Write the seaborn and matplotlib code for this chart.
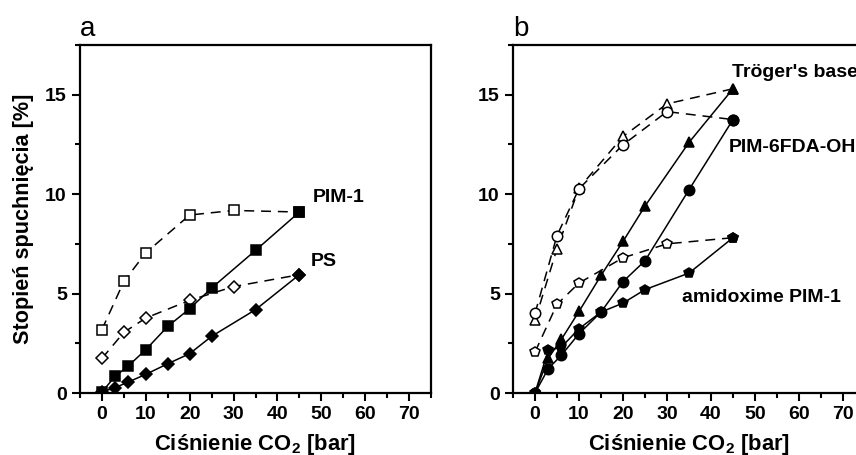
import matplotlib
matplotlib.use("Agg")
import matplotlib.pyplot as plt
import seaborn as sns
from matplotlib.ticker import MultipleLocator

# ---------------- data ----------------
# panel a
pim1_sorp_x = [0, 3, 6, 10, 15, 20, 25, 35, 45]
pim1_sorp_y = [0.05, 0.84, 1.36, 2.18, 3.35, 4.24, 5.28, 7.17, 9.1]
pim1_des_x = [0, 5, 10, 20, 30, 45]
pim1_des_y = [3.19, 5.61, 7.05, 8.95, 9.18, 9.1]

ps_sorp_x = [0, 3, 6, 10, 15, 20, 25, 35, 45]
ps_sorp_y = [0.05, 0.27, 0.55, 0.94, 1.47, 1.98, 2.85, 4.19, 5.95]
ps_des_x = [0, 5, 10, 20, 30, 45]
ps_des_y = [1.74, 3.05, 3.77, 4.66, 5.35, 5.95]

# panel b
tb_sorp_x = [0, 3, 6, 10, 15, 20, 25, 35, 45]
tb_sorp_y = [0.0, 1.75, 2.7, 4.1, 5.91, 7.62, 9.4, 12.6, 15.3]
tb_des_x = [0, 5, 10, 20, 30, 45]
tb_des_y = [3.65, 7.26, 10.3, 12.9, 14.54, 15.3]

oh_sorp_x = [0, 3, 6, 10, 15, 20, 25, 35, 45]
oh_sorp_y = [0.0, 1.22, 1.9, 2.98, 4.07, 5.6, 6.65, 10.22, 13.75]
oh_des_x = [0, 5, 10, 20, 30, 45]
oh_des_y = [4.0, 7.92, 10.27, 12.48, 14.15, 13.75]

am_sorp_x = [0, 3, 6, 10, 15, 20, 25, 35, 45]
am_sorp_y = [0.0, 2.14, 2.31, 3.23, 4.07, 4.52, 5.2, 6.03, 7.81]
am_des_x = [0, 5, 10, 20, 30, 45]
am_des_y = [2.06, 4.46, 5.53, 6.8, 7.5, 7.81]

x_ticks = [0, 10, 20, 30, 40, 50, 60, 70]
y_ticks = [0, 5, 10, 15]
x_label = r"Ciśnienie CO$_2$ [bar]"
y_label = "Stopień spuchnięcia [%]"

# ---------------- style ----------------
sns.set_theme(style="ticks")
plt.rcParams["font.family"] = ["Liberation Sans", "DejaVu Sans"]
plt.rcParams["mathtext.fontset"] = "custom"
plt.rcParams["mathtext.rm"] = "Liberation Sans:bold"
plt.rcParams["mathtext.it"] = "Liberation Sans:bold"
plt.rcParams["mathtext.bf"] = "Liberation Sans:bold"
plt.rcParams["mathtext.default"] = "rm"
for key in ("text.color", "axes.labelcolor", "xtick.color", "ytick.color", "axes.edgecolor"):
    plt.rcParams[key] = "black"

fig = plt.figure(figsize=(8.56, 4.55), dpi=100)
ax_a = fig.add_axes([80 / 856, 1 - 393 / 455, 351 / 856, 348 / 455])
ax_b = fig.add_axes([513 / 856, 1 - 393 / 455, 352 / 856, 348 / 455])

MS = 7.5
DASH = (0, (6.5, 4.5))


def draw(ax, x, y, marker, filled, ms=MS):
    kw = dict(color="black", marker=marker, markersize=ms, markeredgecolor="black",
              markeredgewidth=1.1, linewidth=1.1, ax=ax, sort=False)
    if filled:
        sns.lineplot(x=x, y=y, markerfacecolor="black", zorder=4, **kw)
    else:
        sns.lineplot(x=x, y=y, markerfacecolor="white", linestyle=DASH, zorder=3, **kw)


# panel a
draw(ax_a, pim1_des_x, pim1_des_y, "s", False, 7)
draw(ax_a, ps_des_x, ps_des_y, "D", False, 6.5)
draw(ax_a, pim1_sorp_x, pim1_sorp_y, "s", True, 7)
draw(ax_a, ps_sorp_x, ps_sorp_y, "D", True, 6.5)

# panel b
draw(ax_b, tb_des_x, tb_des_y, "^", False)
draw(ax_b, oh_des_x, oh_des_y, "o", False)
draw(ax_b, am_des_x, am_des_y, "p", False)
draw(ax_b, tb_sorp_x, tb_sorp_y, "^", True)
draw(ax_b, oh_sorp_x, oh_sorp_y, "o", True)
draw(ax_b, am_sorp_x, am_sorp_y, "p", True)

for ax in (ax_a, ax_b):
    ax.set_xlim(-5, 75)
    ax.set_ylim(0, 17.5)
    ax.set_xticks(x_ticks)
    ax.set_yticks(y_ticks)
    ax.xaxis.set_minor_locator(MultipleLocator(5))
    ax.yaxis.set_minor_locator(MultipleLocator(2.5))
    ax.tick_params(which="major", direction="out", length=5.5, width=1.5, color="black",
                   labelsize=14, pad=4, labelcolor="black")
    ax.tick_params(which="minor", direction="out", length=3.5, width=1.5, color="black")
    for lab in ax.get_xticklabels() + ax.get_yticklabels():
        lab.set_fontweight("bold")
    for s in ax.spines.values():
        s.set_linewidth(1.6)
        s.set_color("black")
    ax.set_xlabel(x_label, fontsize=15.8, fontweight="bold", labelpad=6, color="black")
    ax.set_ylabel("")
    ax.grid(False)

ax_a.set_ylabel(y_label, fontsize=15.6, fontweight="bold", labelpad=8, color="black")

ax_a.text(0.0, 1.01, "a", transform=ax_a.transAxes, fontsize=20, ha="left", va="bottom")
ax_b.text(0.0, 1.01, "b", transform=ax_b.transAxes, fontsize=20, ha="left", va="bottom")

ax_a.text(48.1, 9.85, "PIM-1", fontsize=14, fontweight="bold", va="center")
ax_a.text(47.7, 6.63, "PS", fontsize=14, fontweight="bold", va="center")
ax_b.text(44.8, 16.1, "Tröger's base", fontsize=14, fontweight="bold", va="center")
ax_b.text(44.0, 12.36, "PIM-6FDA-OH", fontsize=14, fontweight="bold", va="center")
ax_b.text(33.5, 4.82, "amidoxime PIM-1", fontsize=14, fontweight="bold", va="center")

fig.savefig("out.png", dpi=100)
